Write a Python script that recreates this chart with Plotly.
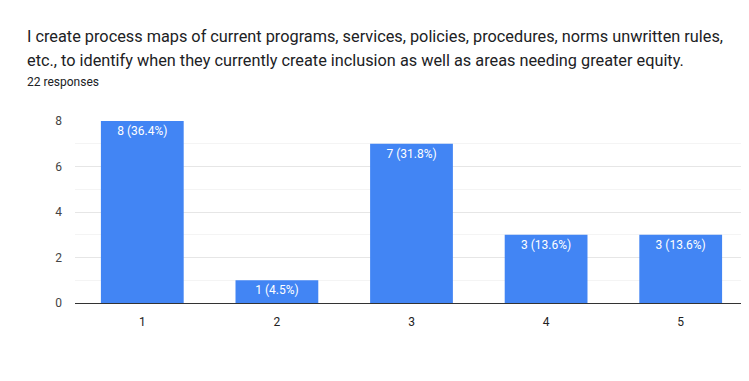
import plotly.graph_objects as go

categories = ["1", "2", "3", "4", "5"]
counts = [8, 1, 7, 3, 3]
total = 22
labels = [f"{c} ({c / total * 100:.1f}%)" for c in counts]

title_line1 = "I create process maps of current programs, services, policies, procedures, norms unwritten rules,"
title_line2 = "etc., to identify when they currently create inclusion as well as areas needing greater equity."
subtitle = "22 responses"

OFF = 8  # default page body margin
W, H = 749 - OFF, 381 - OFF
L, R, T, B = 75 - OFF, 1, 121 - OFF, 78
ph = H - T - B
pw = W - L - R

def py(ypx):
    return (H - B - (ypx - OFF)) / ph

def px(xpx):
    return ((xpx - OFF) - L) / pw

fig = go.Figure(go.Bar(
    x=categories, y=counts, text=labels,
    textposition="inside", insidetextanchor="end",
    textfont=dict(color="white", size=12, family="Roboto"),
    constraintext="none",
    marker=dict(color="#4285f4", line=dict(width=0)),
    width=0.615,
    hoverinfo="skip",
))

fig.update_layout(
    width=W, height=H,
    margin=dict(l=L, r=R, t=T, b=B, pad=0),
    paper_bgcolor="white", plot_bgcolor="white",
    font=dict(family="Roboto", color="#444444"),
    showlegend=False,
)
fig.update_yaxes(
    range=[0, 8], tickvals=[0, 2, 4, 6, 8], showgrid=True, gridcolor="#e6e6e6", gridwidth=1,
    minor=dict(tickvals=[1, 3, 5, 7], showgrid=True, gridcolor="#f4f4f4", gridwidth=1),
    zeroline=False, showline=False, ticks="", ticklabelstandoff=12,
    tickfont=dict(size=12, color="#444444", family="Roboto"), fixedrange=True,
)
fig.update_xaxes(
    showgrid=False, showline=True, linecolor="#333333", linewidth=1,
    ticks="", ticklabelstandoff=8, tickfont=dict(size=12, color="#222222", family="Roboto"),
    range=[-0.5, 4.5], fixedrange=True,
)

fig.add_annotation(text=title_line1, xref="paper", yref="paper", x=px(25), y=py(36),
                   xanchor="left", yanchor="middle", showarrow=False,
                   font=dict(family="Roboto", size=16.3, color="#202124"))
fig.add_annotation(text=title_line2, xref="paper", yref="paper", x=px(25), y=py(60),
                   xanchor="left", yanchor="middle", showarrow=False,
                   font=dict(family="Roboto", size=16.3, color="#202124"))
fig.add_annotation(text=subtitle, xref="paper", yref="paper", x=px(25), y=py(82),
                   xanchor="left", yanchor="middle", showarrow=False,
                   font=dict(family="Roboto", size=12, color="#202124"))

fig.write_html("out.html")
